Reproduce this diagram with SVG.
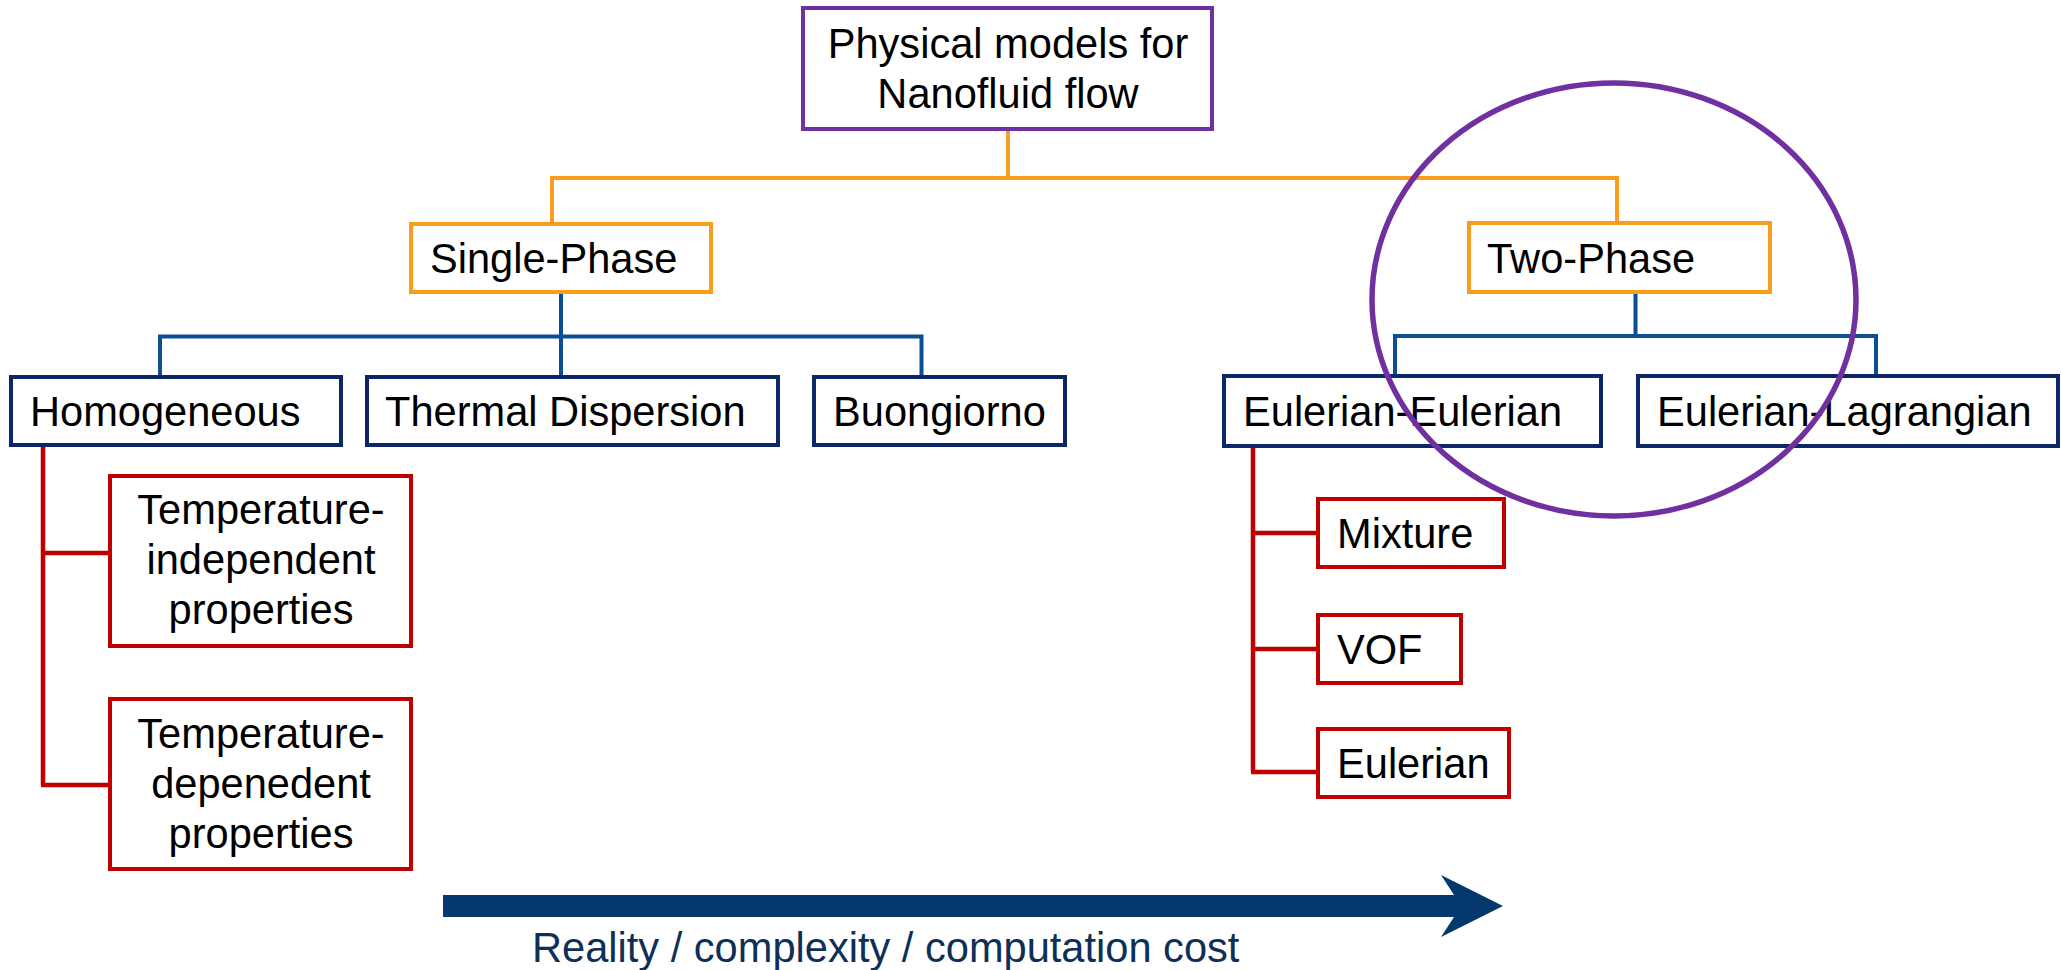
<svg xmlns="http://www.w3.org/2000/svg" width="2061" height="970" viewBox="0 0 2061 970">
  <style>
    .box { fill: #ffffff; stroke-width: 4; }
    .root { stroke: #7030A0; }
    .phase { stroke: #F99D1E; }
    .model { stroke: #0B2767; }
    .sub { stroke: #C00000; }
    .lbl { font-family: "Liberation Sans", Arial, sans-serif; font-size: 41.6px; fill: #000000; }
    .mid { text-anchor: middle; }
    .c-orange { stroke: #F99D1E; stroke-width: 4; fill: none; }
    .c-blue { stroke: #0A4F96; stroke-width: 4; fill: none; }
    .c-red { stroke: #C00000; stroke-width: 4.5; fill: none; }
  </style>

  <rect width="2061" height="970" fill="#ffffff"/>

  <!-- tree connectors -->
  <g id="connectors">
    <!-- root to phases -->
    <path class="c-orange" d="M1008 129 V178 M552 178 H1617 M552 176 V224 M1617 176 V223"/>
    <!-- single-phase to its models -->
    <path class="c-blue" d="M561 292 V377 M160 336.5 H921.5 M160 334.5 V377 M921.5 334.5 V377"/>
    <!-- two-phase to its models -->
    <path class="c-blue" d="M1635.5 292 V338 M1395 336 H1876 M1395 334 V376 M1876 334 V376"/>
    <!-- homogeneous property variants -->
    <path class="c-red" d="M43 445 V785 M41 553 H110 M41 785 H110"/>
    <!-- eulerian-eulerian sub-models -->
    <path class="c-red" d="M1253 446 V772 M1251 533 H1318 M1251 649 H1318 M1251 772 H1318"/>
  </g>

  <g id="root">
    <rect class="box root" x="803" y="8" width="409" height="121"/>
    <text class="lbl mid" x="1008" y="58">Physical models for</text>
    <text class="lbl mid" x="1008" y="108">Nanofluid flow</text>
  </g>

  <g id="single-phase">
    <rect class="box phase" x="411" y="224" width="300" height="68"/>
    <text class="lbl" x="430" y="273">Single-Phase</text>
  </g>

  <g id="two-phase">
    <rect class="box phase" x="1469" y="223" width="301" height="69"/>
    <text class="lbl" x="1487" y="273">Two-Phase</text>
  </g>

  <g id="homogeneous">
    <rect class="box model" x="11" y="377" width="330" height="68"/>
    <text class="lbl" x="30" y="426">Homogeneous</text>
  </g>

  <g id="thermal-dispersion">
    <rect class="box model" x="367" y="377" width="411" height="68"/>
    <text class="lbl" x="385" y="426">Thermal Dispersion</text>
  </g>

  <g id="buongiorno">
    <rect class="box model" x="814" y="377" width="251" height="68"/>
    <text class="lbl" x="833" y="426">Buongiorno</text>
  </g>

  <g id="eulerian-eulerian">
    <rect class="box model" x="1224" y="376" width="377" height="70"/>
    <text class="lbl" x="1243" y="426">Eulerian-Eulerian</text>
  </g>

  <g id="eulerian-lagrangian">
    <rect class="box model" x="1638" y="376" width="420" height="70"/>
    <text class="lbl" x="1657" y="426">Eulerian-Lagrangian</text>
  </g>

  <g id="temp-independent">
    <rect class="box sub" x="110" y="476" width="301" height="170"/>
    <text class="lbl mid" x="261" y="524">Temperature-</text>
    <text class="lbl mid" x="261" y="574">independent</text>
    <text class="lbl mid" x="261" y="624">properties</text>
  </g>

  <g id="temp-dependent">
    <rect class="box sub" x="110" y="699" width="301" height="170"/>
    <text class="lbl mid" x="261" y="748">Temperature-</text>
    <text class="lbl mid" x="261" y="798">depenedent</text>
    <text class="lbl mid" x="261" y="848">properties</text>
  </g>

  <g id="mixture">
    <rect class="box sub" x="1318" y="499" width="186" height="68"/>
    <text class="lbl" x="1337" y="548">Mixture</text>
  </g>

  <g id="vof">
    <rect class="box sub" x="1318" y="615" width="143" height="68"/>
    <text class="lbl" x="1337" y="664">VOF</text>
  </g>

  <g id="eulerian">
    <rect class="box sub" x="1318" y="729" width="191" height="68"/>
    <text class="lbl" x="1337" y="778">Eulerian</text>
  </g>

  <!-- highlight ring around the two-phase branch -->
  <g id="highlight">
    <ellipse cx="1614" cy="299.5" rx="242" ry="216.5" fill="none" stroke="#7030A0" stroke-width="5.5"/>
  </g>

  <!-- trend arrow along the bottom -->
  <g id="trend">
    <polygon points="443,895 1454,895 1441,875 1503,906 1441,937 1454,917 443,917" fill="#03396C"/>
    <text x="532" y="962" font-family="Liberation Sans, Arial, sans-serif" font-size="41.6" fill="#0E2F56">Reality / complexity / computation cost</text>
  </g>
</svg>
